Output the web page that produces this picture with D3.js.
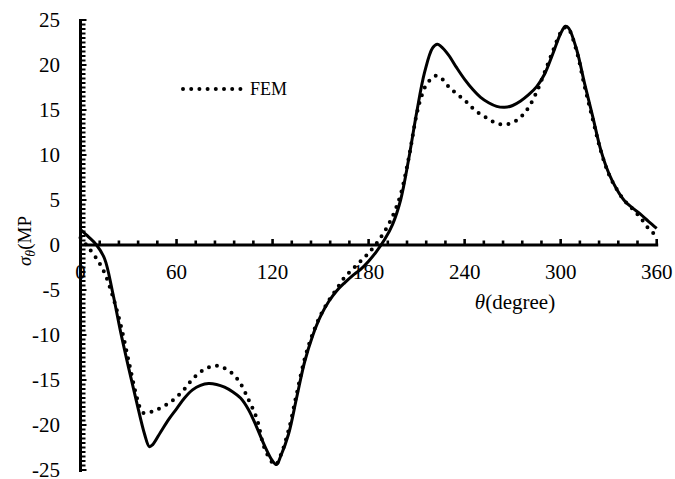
<!DOCTYPE html>
<html>
<head>
<meta charset="utf-8">
<script src="https://cdn.jsdelivr.net/npm/d3@7"></script>
</head>
<body style="margin:0; background:#fff">
<svg id="chart" width="675" height="479"></svg>
<script>
// Hoop stress around the opening: analytical solution (solid) vs FEM (dotted)
const thetaAnalytical = [0, 5, 10, 15, 20, 25, 30, 35, 40, 43, 45, 50, 55, 60, 65, 70, 75, 80, 85, 90, 95, 100, 105, 110, 115, 120, 122.5, 125, 130, 135, 140, 145, 150, 155, 160, 165, 170, 175, 180, 185, 190, 195, 200, 205, 210, 215, 220, 223, 225, 230, 235, 240, 245, 250, 255, 260, 265, 270, 275, 280, 285, 290, 295, 300, 303, 305, 310, 315, 320, 325, 330, 335, 340, 345, 350, 355, 360];
const stressAnalytical = [1.7, 0.9, 0.0, -1.5, -5.2, -9.6, -13.6, -17.4, -21.0, -22.4, -22.2, -20.8, -19.4, -18.2, -17.0, -16.1, -15.6, -15.4, -15.5, -15.8, -16.3, -17.0, -18.3, -20.2, -22.3, -24.0, -24.4, -23.5, -21.0, -17.0, -13.0, -10.1, -7.9, -6.3, -5.1, -4.2, -3.4, -2.7, -1.8, -0.7, 0.6, 2.3, 5.0, 9.5, 14.7, 19.2, 21.9, 22.3, 22.1, 21.1, 19.7, 18.4, 17.3, 16.4, 15.8, 15.4, 15.3, 15.5, 16.0, 16.7, 17.6, 19.0, 21.2, 23.5, 24.3, 24.1, 21.7, 17.9, 14.3, 10.6, 8.0, 6.2, 4.9, 4.1, 3.4, 2.6, 1.85];

const thetaFEM = [0, 5, 10, 15, 20, 25, 30, 35, 38, 40, 45, 50, 55, 60, 65, 70, 75, 80, 85, 90, 95, 100, 105, 110, 115, 120, 122, 125, 130, 135, 140, 145, 150, 155, 160, 165, 170, 175, 180, 185, 190, 195, 200, 205, 210, 213, 216, 220, 222, 225, 230, 235, 240, 245, 250, 255, 260, 265, 270, 275, 280, 285, 290, 295, 300, 303, 305, 310, 315, 320, 325, 330, 335, 340, 345, 350, 355, 360];
const stressFEM = [0.8, -0.3, -1.5, -3.1, -5.6, -8.8, -12.8, -16.8, -18.4, -18.7, -18.5, -18.1, -17.6, -16.9, -16.0, -14.9, -14.1, -13.6, -13.4, -13.7, -14.3, -15.4, -17.2, -19.2, -22.6, -24.2, -24.4, -23.4, -20.6, -16.6, -12.7, -9.9, -7.8, -6.2, -4.9, -3.6, -2.7, -1.8, -0.9, 0.2, 1.5, 3.2, 5.6, 9.6, 14.5, 16.5, 17.8, 18.6, 18.8, 18.6, 17.6, 16.8, 16.1, 15.2, 14.5, 14.0, 13.5, 13.4, 13.6, 14.2, 15.3, 17.0, 19.2, 21.5, 23.6, 24.2, 24.0, 21.5, 17.6, 14.0, 10.5, 7.9, 6.2, 4.9, 4.0, 3.0, 1.8, 1.0];

const xTickLabels = [0, 60, 120, 180, 240, 300, 360];
const yTickLabels = [-25, -20, -15, -10, -5, 0, 5, 10, 15, 20, 25];
const legendLabel = "FEM";

const svg = d3.select("#chart");

const x = d3.scaleLinear().domain([0, 360]).range([80.5, 656.7]);
const y = d3.scaleLinear().domain([-25, 25]).range([470, 20]);

// every text element gets the serif face directly
function serif(sel) {
  return sel.attr("font-family", "Liberation Serif").style("font-family", "'Liberation Serif'");
}

const gAxes = svg.append("g");

// tick labels
svg.selectAll(".xl").data(xTickLabels).enter().append("text")
  .call(serif)
  .attr("x", d => x(d)).attr("y", 279)
  .attr("text-anchor", "middle").attr("font-size", 21)
  .text(d => d);

svg.selectAll(".yl").data(yTickLabels).enter().append("text")
  .call(serif)
  .attr("x", 60).attr("y", d => y(d) + 7)
  .attr("text-anchor", "end").attr("font-size", 21)
  .text(d => d);

// axis titles
const yTitle = svg.append("text")
  .call(serif)
  .attr("transform", "translate(31,266) rotate(-90)")
  .attr("font-size", 19);
yTitle.append("tspan").call(serif).attr("font-style", "italic").text("σ");
yTitle.append("tspan").call(serif).attr("font-style", "italic").attr("font-size", 14).attr("dy", 4).text("θ");
yTitle.append("tspan").call(serif).attr("dy", -4).text("(MP");

const xTitle = svg.append("text")
  .call(serif)
  .attr("x", 515).attr("y", 309).attr("text-anchor", "middle").attr("font-size", 21);
xTitle.append("tspan").call(serif).attr("font-style", "italic").text("θ");
xTitle.append("tspan").call(serif).text("(degree)");

// axes: zero line for θ, vertical axis at θ = 0
gAxes.append("line")
  .attr("x1", x(0) - 1.5).attr("x2", x(360) + 1.5)
  .attr("y1", y(0)).attr("y2", y(0))
  .attr("stroke", "#000").attr("stroke-width", 3);
gAxes.append("line")
  .attr("x1", x(0)).attr("x2", x(0))
  .attr("y1", y(25) - 1).attr("y2", y(-25) + 2)
  .attr("stroke", "#000").attr("stroke-width", 3);

// θ ticks every 12°, pointing up
const xMinor = d3.range(12, 361, 12);
gAxes.selectAll(".xt").data(xMinor).enter().append("line")
  .attr("x1", d => x(d)).attr("x2", d => x(d))
  .attr("y1", y(0))
  .attr("y2", d => y(0) - (d % 60 === 0 ? 6 : 4.5))
  .attr("stroke", "#000").attr("stroke-width", 2.6);

// stress ticks every 0.5, pointing right
const yMinor = d3.range(-25, 25.01, 0.5);
gAxes.selectAll(".yt").data(yMinor).enter().append("line")
  .attr("x1", x(0))
  .attr("x2", d => x(0) + (Math.abs(d % 5) < 1e-9 ? 6 : 5))
  .attr("y1", d => y(d)).attr("y2", d => y(d))
  .attr("stroke", "#000").attr("stroke-width", 2);

// curves
const line = d3.line()
  .x(d => x(d[0])).y(d => y(d[1]))
  .curve(d3.curveCatmullRom.alpha(0.5));

svg.append("path")
  .datum(d3.zip(thetaAnalytical, stressAnalytical))
  .attr("d", line)
  .attr("fill", "none").attr("stroke", "#000").attr("stroke-width", 3)
  .attr("stroke-linejoin", "round");

svg.append("path")
  .datum(d3.zip(thetaFEM, stressFEM))
  .attr("d", line)
  .attr("fill", "none").attr("stroke", "#000").attr("stroke-width", 4)
  .attr("stroke-linecap", "round").attr("stroke-dasharray", "0 8.2");

// legend
svg.append("line")
  .attr("x1", 183).attr("x2", 246).attr("y1", 89).attr("y2", 89)
  .attr("stroke", "#000").attr("stroke-width", 4)
  .attr("stroke-linecap", "round").attr("stroke-dasharray", "0 8.2");
svg.append("text")
  .call(serif)
  .attr("x", 250).attr("y", 95)
  .attr("font-size", 18).text(legendLabel);
</script>
</body>
</html>
